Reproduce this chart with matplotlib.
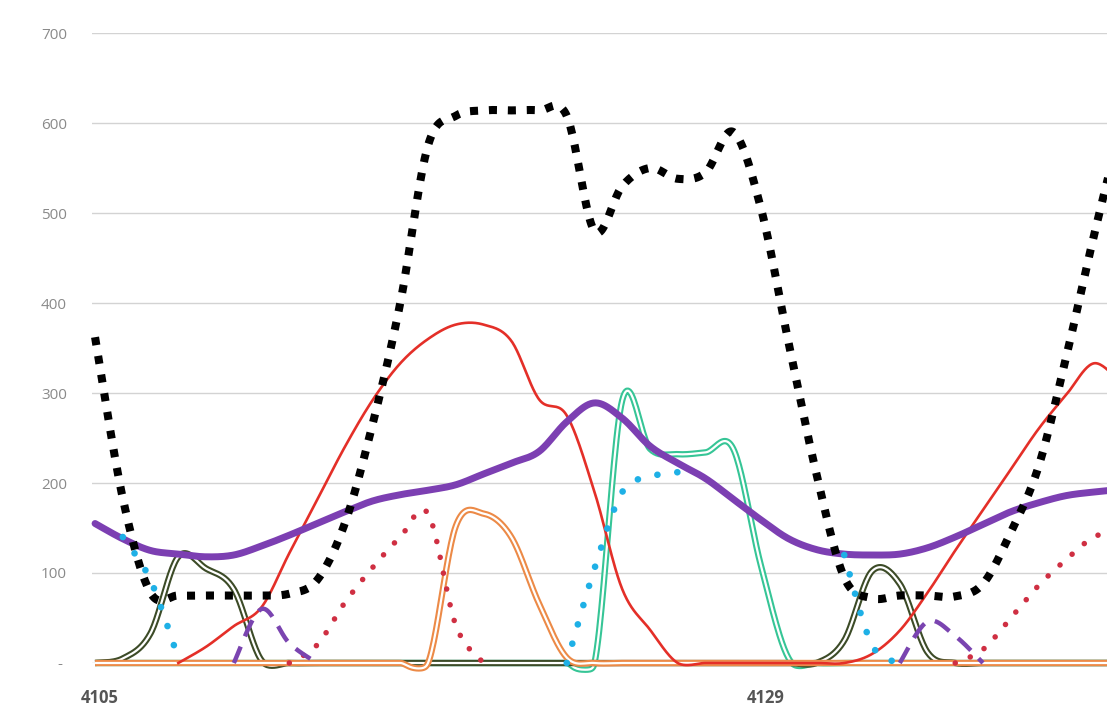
import numpy as np
import matplotlib
matplotlib.use("Agg")
import matplotlib.pyplot as plt
from matplotlib.transforms import ScaledTranslation

nan = np.nan

# categories along the x axis (only two are labelled)
codes = list(range(4105, 4143))
shown_labels = {0: "4105", 24: "4129"}
y_ticks = [0, 100, 200, 300, 400, 500, 600, 700]
y_labels = ["- ", "100", "200", "300", "400", "500", "600", "700"]

black_dotted = [362, 183, 78, 75, 75, 75, 75, 77, 92, 155, 265, 400, 575, 608,
                614, 614, 614, 608, 480, 530, 550, 538, 545, 590, 505, 355, 210,
                95, 72, 75, 75, 74, 88, 145, 218, 340, 475, 600]
red_solid = [nan, nan, nan, 0, 18, 41, 62, 122, 181, 240, 292, 333, 360, 376,
             376, 358, 293, 275, 190, 82, 37, 0, 0, 0, 0, 0, 0, 0, 10, 36, 78,
             125, 170, 215, 260, 298, 333, 310]
purple_thick = [155, 138, 125, 121, 118, 120, 130, 142, 155, 168, 180, 187, 192,
                198, 210, 222, 235, 268, 289, 272, 241, 222, 205, 182, 159, 138,
                126, 121, 120, 121, 128, 140, 154, 168, 178, 186, 190, 193]
green_double = [0, 0, 0, 0, 0, 0, 0, 0, 0, 0, 0, 0, 0, 0, 0, 0, 0, 0, 0, 292,
                238, 232, 234, 238, 108, 5, 0, 0, 0, 0, 0, 0, 0, 0, 0, 0, 0, 0]
orange_double = [0, 0, 0, 0, 0, 0, 0, 0, 0, 0, 0, 0, 0, 152, 166, 140, 66, 6,
                 0, 0, 0, 0, 0, 0, 0, 0, 0, 0, 0, 0, 0, 0, 0, 0, 0, 0, 0, 0]
darkgreen_double = [0, 5, 33, 118, 105, 82, 3, 0, 0, 0, 0, 0, 0, 0, 0, 0, 0, 0,
                    0, 0, 0, 0, 0, 0, 0, 0, 0, 25, 102, 88, 12, 0, 0, 0, 0, 0, 0, 0]
cyan_dotted = [nan, 140, 92, 5, nan, nan, nan, nan, nan, nan, nan, nan, nan, nan,
               nan, nan, nan, 0, 105, 190, 207, 212, nan, nan, nan, nan, nan, 120,
               20, 0, nan, nan, nan, nan, nan, nan, nan, nan]
red_dotted = [nan, nan, nan, nan, nan, nan, nan, 0, 20, 67, 106, 140, 166, 42, 0,
              nan, nan, nan, nan, nan, nan, nan, nan, nan, nan, nan, nan, nan,
              nan, nan, nan, 0, 15, 50, 86, 115, 140, 148]
purple_dashed = [nan, nan, nan, nan, nan, 0, 60, 22, 0, nan, nan, nan, nan, nan,
                 nan, nan, nan, nan, nan, nan, nan, nan, nan, nan, nan, nan, nan,
                 nan, nan, 0, 46, 30, 0, nan, nan, nan, nan, nan]


def smooth(values, steps=24):
    # Excel-style smoothed line: Catmull-Rom through each unbroken run of points
    y = np.asarray(values, dtype=float)
    x = np.arange(len(y), dtype=float)
    xs, ys = [], []
    ok = ~np.isnan(y)
    i = 0
    while i < len(y):
        if not ok[i]:
            i += 1
            continue
        j = i
        while j + 1 < len(y) and ok[j + 1]:
            j += 1
        px, py = x[i:j + 1], y[i:j + 1]
        if len(px) > 1:
            px2 = np.concatenate([[px[0]], px, [px[-1]]])
            py2 = np.concatenate([[py[0]], py, [py[-1]]])
            for k in range(1, len(px2) - 2):
                t = np.linspace(0, 1, steps, endpoint=False)
                m1x = (px2[k + 1] - px2[k - 1]) / 2
                m2x = (px2[k + 2] - px2[k]) / 2
                m1y = (py2[k + 1] - py2[k - 1]) / 2
                m2y = (py2[k + 2] - py2[k]) / 2
                h00 = 2 * t**3 - 3 * t**2 + 1
                h10 = t**3 - 2 * t**2 + t
                h01 = -2 * t**3 + 3 * t**2
                h11 = t**3 - t**2
                xs.extend(h00 * px2[k] + h10 * m1x + h01 * px2[k + 1] + h11 * m2x)
                ys.extend(h00 * py2[k] + h10 * m1y + h01 * py2[k + 1] + h11 * m2y)
            xs.append(px[-1])
            ys.append(py[-1])
        xs.append(nan)
        ys.append(nan)
        i = j + 1
    ys = np.array(ys)
    # excel keeps the overshoot below the axis small: squash it softly
    c = 8.0
    neg = ys < 0
    ys[neg] = -c * (1 - np.exp(ys[neg] / c))
    return np.array(xs), ys


fig = plt.figure(figsize=(11.07, 7.11), dpi=100)
ax = fig.add_axes([92 / 1107, 1 - 663 / 711, 1 - 92 / 1107, (663 - 33) / 711])

ax.set_xlim(-0.11, 36.47)
ax.set_ylim(0, 700)
for s in ax.spines.values():
    s.set_visible(False)
ax.set_yticks(y_ticks)
ax.set_yticklabels(y_labels)
ax.yaxis.grid(True, color="#d3d3d3", lw=1.0)
ax.set_axisbelow(True)
ax.set_xticks(list(shown_labels.keys()))
ax.set_xticklabels(list(shown_labels.values()))
ax.tick_params(axis="y", length=0, pad=18, labelsize=11, labelcolor="#8a8a8a")
ax.tick_params(axis="x", length=0, pad=19, labelsize=12, labelcolor="#555555")
for lab in ax.get_yticklabels():
    lab.set_fontfamily("Open Sans")
shift = ScaledTranslation(5 / 100, 0, fig.dpi_scale_trans)
for lab in ax.get_xticklabels():
    lab.set_fontfamily("Open Sans")
    lab.set_fontweight("bold")
    lab.set_transform(lab.get_transform() + shift)


def double_line(vals, color):
    xs, ys = smooth(vals)
    ax.plot(xs, ys, color=color, lw=4.6, clip_on=False, solid_capstyle="butt")
    ax.plot(xs, ys, color="white", lw=1.6, clip_on=False, solid_capstyle="butt")


double_line(green_double, "#36c596")
double_line(darkgreen_double, "#3c4b27")
double_line(orange_double, "#ec8a47")

xs, ys = smooth(red_solid)
ax.plot(xs, ys, color="#e42f28", lw=1.9, clip_on=False)

xs, ys = smooth(purple_thick)
ax.plot(xs, ys, color="#7c3fb2", lw=5.0, clip_on=False, solid_capstyle="round")

xs, ys = smooth(cyan_dotted)
ax.plot(xs, ys, color="#1eb0e6", lw=4.8, ls=(0, (0.01, 3.0)),
        dash_capstyle="round", clip_on=False)

xs, ys = smooth(red_dotted)
ax.plot(xs, ys, color="#cf2f42", lw=4.0, ls=(0, (0.01, 2.9)),
        dash_capstyle="round", clip_on=False)

xs, ys = smooth(purple_dashed)
ax.plot(xs, ys, color="#7a44b0", lw=3.2, ls=(0, (4, 2.5)),
        dash_capstyle="butt", clip_on=False)

xs, ys = smooth(black_dotted)
ax.plot(xs, ys, color="black", lw=5.8, ls=(0, (1, 1.35)),
        dash_capstyle="butt", clip_on=False)

fig.savefig("out.png", dpi=100, facecolor="white")
